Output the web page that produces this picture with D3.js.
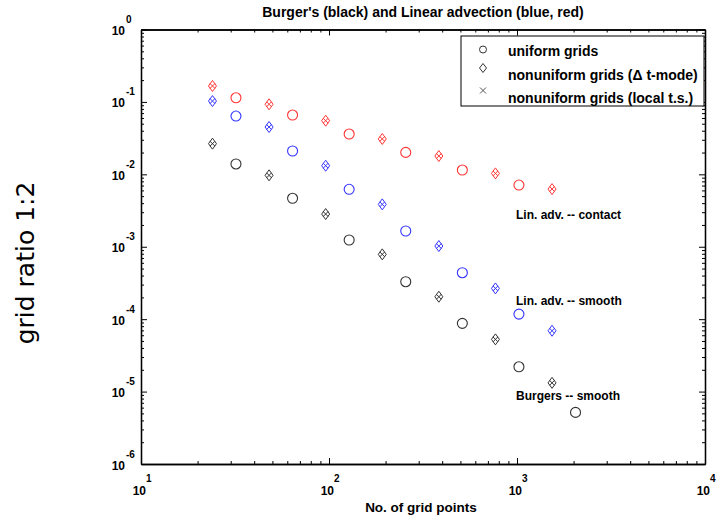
<!DOCTYPE html>
<html>
  <head>
    <title>Burger's and Linear advection convergence</title>
    <script src="https://d3js.org/d3.v7.min.js"></script>
    <style>
      body { margin: 0; background: #fff; }
      text { font-family: "Liberation Sans", Arial, sans-serif; font-weight: bold; fill: #000; }
      .side { font-family: "DejaVu Sans", sans-serif; font-weight: normal; }
      .axis path, .axis line { stroke: #000; }
    </style>
  </head>
  <body>
    <script>
      // grid sizes
      var nUniform = [32, 64, 128, 256, 512, 1024, 2048];
      var nNonuniform = [24, 48, 96, 192, 384, 768, 1536];

      // errors
      var burgersUniform = [0.0139, 0.00467, 0.00124, 0.000329, 0.0000875, 0.000022, 0.00000516];
      var burgersNonuniform = [0.0265, 0.00968, 0.00283, 0.000785, 0.000204, 0.0000526, 0.0000132];
      var smoothUniform = [0.0638, 0.021, 0.00621, 0.00165, 0.000438, 0.0001175];
      var smoothNonuniform = [0.1028, 0.045, 0.01315, 0.00385, 0.001023, 0.000266, 0.0000692];
      var contactUniform = [0.114, 0.0659, 0.036, 0.0201, 0.01146, 0.00711];
      var contactNonuniform = [0.166, 0.0927, 0.055, 0.0308, 0.0179, 0.0103, 0.00626];

      var xDecades = [1, 2, 3, 4];
      var yDecades = [0, -1, -2, -3, -4, -5, -6];
      var legendLabels = ["uniform grids", "nonuniform grids (\u0394 t-mode)", "nonuniform grids (local t.s.)"];

      var width = 717;
      var height = 517;
      var margin = {top: 29.5, left: 141, right: 12, bottom: 53};

      var svg = d3.select("body")
        .append("svg")
        .attr("width", width)
        .attr("height", height);

      var xScale = d3.scaleLog()
        .domain([10, 1e4])
        .range([margin.left, width - margin.right]);

      var yScale = d3.scaleLog()
        .domain([1e-6, 1])
        .range([height - margin.bottom, margin.top]);

      var x0 = xScale.range()[0], x1 = xScale.range()[1];
      var y0 = yScale.range()[0], y1 = yScale.range()[1];

      // minor tick values
      var xMinor = [], yMinor = [];
      xDecades.slice(0, -1).forEach(function(e) {
        for (var k = 2; k < 10; k++) xMinor.push(k * Math.pow(10, e));
      });
      yDecades.slice(1).forEach(function(e) {
        for (var k = 2; k < 10; k++) yMinor.push(k * Math.pow(10, e));
      });
      var xMajor = xDecades.map(function(e) { return Math.pow(10, e); });
      var yMajor = yDecades.map(function(e) { return Math.pow(10, e); });

      function addAxis(axisFn, scale, values, size, tx, ty) {
        svg.append("g")
          .attr("class", "axis")
          .attr("transform", "translate(" + tx + "," + ty + ")")
          .call(axisFn(scale).tickValues(values).tickSize(size).tickSizeOuter(0).tickFormat(""));
      }

      // ticks point inward on all four sides
      addAxis(d3.axisBottom, xScale, xMajor, -6, 0, y0);
      addAxis(d3.axisBottom, xScale, xMinor, -3, 0, y0);
      addAxis(d3.axisTop, xScale, xMajor, -6, 0, y1);
      addAxis(d3.axisTop, xScale, xMinor, -3, 0, y1);
      addAxis(d3.axisLeft, yScale, yMajor, -6, x0, 0);
      addAxis(d3.axisLeft, yScale, yMinor, -3, x0, 0);
      addAxis(d3.axisRight, yScale, yMajor, -6, x1, 0);
      addAxis(d3.axisRight, yScale, yMinor, -3, x1, 0);
      svg.selectAll(".axis path").attr("stroke-width", 1.3);

      // tick labels 10^n
      xDecades.forEach(function(e) {
        var x = xScale(Math.pow(10, e));
        svg.append("text").attr("x", x + 5).attr("y", y0 + 31)
          .attr("text-anchor", "end").attr("font-size", 12).text("10");
        svg.append("text").attr("x", x + 5).attr("y", y0 + 18)
          .attr("font-size", 10).text(e);
      });
      yDecades.forEach(function(e) {
        var y = yScale(Math.pow(10, e));
        svg.append("text").attr("x", x0 - 16).attr("y", y + 5.5)
          .attr("text-anchor", "end").attr("font-size", 12).text("10");
        svg.append("text").attr("x", x0 - 15).attr("y", y - 6.5)
          .attr("font-size", 10).text(e === 0 ? "0" : "-" + Math.abs(e));
      });

      // markers
      var diamond = "M0,-5.5L4,0L0,5.5L-4,0Z";
      var cross = "M-2.5,-2.5L2.5,2.5M-2.5,2.5L2.5,-2.5";

      var series = [
        {n: nUniform, v: burgersUniform, color: "#333", kind: "circle"},
        {n: nNonuniform, v: burgersNonuniform, color: "#333", kind: "diamond"},
        {n: nUniform, v: smoothUniform, color: "#3535ff", kind: "circle"},
        {n: nNonuniform, v: smoothNonuniform, color: "#3535ff", kind: "diamond"},
        {n: nUniform, v: contactUniform, color: "#ff3535", kind: "circle"},
        {n: nNonuniform, v: contactNonuniform, color: "#ff3535", kind: "diamond"}
      ];

      series.forEach(function(s) {
        var pts = s.v.map(function(v, i) { return {x: s.n[i], y: v}; });
        var g = svg.append("g");
        if (s.kind === "circle") {
          g.selectAll("circle")
            .data(pts)
            .enter()
            .append("circle")
              .attr("cx", function(d) { return xScale(d.x); })
              .attr("cy", function(d) { return yScale(d.y); })
              .attr("r", 5)
              .attr("fill", "none")
              .attr("stroke", s.color)
              .attr("stroke-width", 1.1);
        } else {
          var m = g.selectAll("g")
            .data(pts)
            .enter()
            .append("g")
              .attr("transform", function(d) { return "translate(" + xScale(d.x) + "," + yScale(d.y) + ")"; });
          m.append("path").attr("d", diamond).attr("fill", "none")
            .attr("stroke", s.color).attr("stroke-width", 1);
          m.append("path").attr("d", cross).attr("fill", "none")
            .attr("stroke", s.color).attr("stroke-width", 1);
        }
      });

      // legend
      var legend = svg.append("g");
      legend.append("rect")
        .attr("x", 461).attr("y", 36)
        .attr("width", 243).attr("height", 70)
        .attr("fill", "#fff").attr("stroke", "#000").attr("stroke-width", 1);
      var rowY = [56, 80, 102.5];
      var markY = [49.5, 68, 90.5];
      legendLabels.forEach(function(lbl, i) {
        legend.append("text").attr("x", 508).attr("y", rowY[i])
          .attr("font-size", 14).text(lbl);
      });
      legend.append("circle").attr("cx", 483).attr("cy", markY[0]).attr("r", 3.5)
        .attr("fill", "none").attr("stroke", "#333");
      legend.append("path").attr("d", "M0,-4.5L3.5,0L0,4.5L-3.5,0Z")
        .attr("transform", "translate(483," + markY[1] + ")")
        .attr("fill", "none").attr("stroke", "#333");
      legend.append("path").attr("d", "M-3,-3L3,3M-3,3L3,-3")
        .attr("transform", "translate(483," + markY[2] + ")")
        .attr("fill", "none").attr("stroke", "#555");

      // curve annotations
      svg.append("text").attr("x", 516).attr("y", 219).attr("font-size", 12).text("Lin. adv. -- contact");
      svg.append("text").attr("x", 516).attr("y", 305).attr("font-size", 12).text("Lin. adv. -- smooth");
      svg.append("text").attr("x", 516).attr("y", 400).attr("font-size", 12).text("Burgers -- smooth");

      // title and axis labels
      svg.append("text")
        .attr("x", (x0 + x1) / 2).attr("y", 17)
        .attr("text-anchor", "middle").attr("font-size", 14)
        .text("Burger's (black) and Linear advection (blue, red)");

      svg.append("text")
        .attr("x", (x0 + x1) / 2 - 2).attr("y", 512)
        .attr("text-anchor", "middle").attr("font-size", 13.5)
        .text("No. of grid points");

      svg.append("text")
        .attr("class", "side")
        .attr("transform", "translate(34,263) rotate(-90)")
        .attr("text-anchor", "middle").attr("font-size", 25)
        .text("grid ratio 1:2");
    </script>
  </body>
</html>
